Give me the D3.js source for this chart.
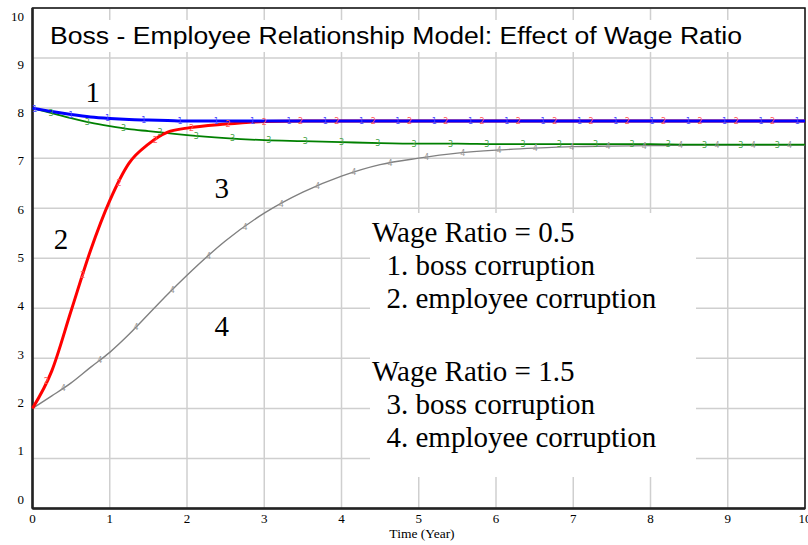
<!DOCTYPE html>
<html>
<head>
<meta charset="utf-8">
<script src="https://cdn.jsdelivr.net/npm/d3@7"></script>
<style>
  body { margin: 0; background: #fff; }
  svg { display: block; }
</style>
</head>
<body>
<svg id="chart" width="808" height="545"></svg>
<script>
// time axis (years) shared by all four runs
var times = [0, 0.25, 0.5, 0.75, 1, 1.25, 1.5, 1.75, 2, 2.5, 3, 3.5, 4, 4.5, 5, 5.5, 6, 6.5, 7, 7.5, 8, 8.5, 9, 9.5, 10];

// wage ratio = 0.5
var bossCorruption05 = [8.0, 7.93, 7.87, 7.82, 7.79, 7.77, 7.76, 7.75, 7.74, 7.74, 7.74, 7.74, 7.74, 7.74, 7.74, 7.74, 7.74, 7.74, 7.74, 7.74, 7.74, 7.74, 7.74, 7.74, 7.74];
var employeeCorruption05 = [2.0, 2.75, 3.95, 5.15, 6.15, 6.9, 7.28, 7.52, 7.6, 7.68, 7.73, 7.74, 7.74, 7.74, 7.74, 7.74, 7.74, 7.74, 7.74, 7.74, 7.74, 7.74, 7.74, 7.74, 7.74];

// wage ratio = 1.5
var bossCorruption15 = [8.0, 7.9, 7.8, 7.71, 7.64, 7.58, 7.54, 7.5, 7.46, 7.4, 7.36, 7.34, 7.32, 7.3, 7.29, 7.29, 7.28, 7.28, 7.28, 7.28, 7.28, 7.27, 7.27, 7.27, 7.27];
var employeeCorruption15 = [2.0, 2.25, 2.51, 2.82, 3.12, 3.48, 3.88, 4.28, 4.66, 5.35, 5.9, 6.32, 6.64, 6.87, 7.0, 7.1, 7.16, 7.2, 7.23, 7.24, 7.25, 7.26, 7.26, 7.26, 7.26];

var xTicks = [0, 1, 2, 3, 4, 5, 6, 7, 8, 9, 10];
var yTicks = [0, 1, 2, 3, 4, 5, 6, 7, 8, 9, 10];

var titleText = "Boss - Employee Relationship Model: Effect of Wage Ratio";
var xTitle = "Time (Year)";
var legendLines = [
  "Wage Ratio = 0.5", "  1. boss corruption", "  2. employee corruption",
  "Wage Ratio = 1.5", "  3. boss corruption", "  4. employee corruption"
];

var series = [
  {id: "4", values: employeeCorruption15, color: "#808080", width: 1.4, mark: "#9a9a9a", start: 0.40},
  {id: "3", values: bossCorruption15, color: "#008000", width: 1.8, mark: "#40a040", start: 0.24},
  {id: "2", values: employeeCorruption05, color: "#ff0000", width: 3, mark: "#ff5a5a", start: 0.18},
  {id: "1", values: bossCorruption05, color: "#0000ff", width: 3, mark: "#5050ff", start: 0.03}
];
var markStep = 0.47;

var svg = d3.select("#chart");
var pLeft = 32.5, pRight = 805, pTop = 8, pBottom = 508.5;

var x = d3.scaleLinear().domain([0, 10]).range([pLeft, pRight]);
var y = d3.scaleLinear().domain([0, 10]).range([pBottom, pTop]);
// the y tick labels in the original sit a little off the grid lines
var yLab = d3.scaleLinear().domain([0, 10]).range([503.5, 20.5]);

var serif = "'Liberation Serif', 'Times New Roman', serif";

svg.append("rect").attr("width", 808).attr("height", 545).attr("fill", "#fff");

// grid
svg.append("g").selectAll("line").data(xTicks).enter().append("line")
  .attr("x1", function(d) { return x(d); }).attr("x2", function(d) { return x(d); })
  .attr("y1", pTop).attr("y2", pBottom)
  .attr("stroke", "#cfcfcf").attr("stroke-width", 1.5);
svg.append("g").selectAll("line").data(yTicks).enter().append("line")
  .attr("x1", pLeft).attr("x2", pRight)
  .attr("y1", function(d) { return y(d); }).attr("y2", function(d) { return y(d); })
  .attr("stroke", "#cfcfcf").attr("stroke-width", 1.5);

// frame
svg.append("rect").attr("x", pLeft).attr("y", pTop)
  .attr("width", pRight - pLeft).attr("height", pBottom - pTop)
  .attr("fill", "none").attr("stroke", "#111").attr("stroke-width", 1.5);
svg.append("line").attr("x1", pLeft).attr("x2", pLeft).attr("y1", pTop).attr("y2", pBottom)
  .attr("stroke", "#222").attr("stroke-width", 2.5);
svg.append("line").attr("x1", pLeft).attr("x2", pRight).attr("y1", pBottom).attr("y2", pBottom)
  .attr("stroke", "#222").attr("stroke-width", 2.5);

// tick labels
svg.append("g").selectAll("text").data(yTicks).enter().append("text")
  .attr("x", 24).attr("y", function(d) { return yLab(d); })
  .attr("text-anchor", "end")
  .style("font-family", serif)
  .style("font-size", "13px")
  .text(function(d) { return d; });
svg.append("g").selectAll("text").data(xTicks).enter().append("text")
  .attr("x", function(d) { return x(d); }).attr("y", 523)
  .attr("text-anchor", "middle")
  .style("font-family", serif)
  .style("font-size", "13px")
  .text(function(d) { return d; });
svg.append("text").attr("x", 422).attr("y", 538).attr("text-anchor", "middle")
  .style("font-family", serif)
  .style("font-size", "13.5px")
  .text(xTitle);

// lines
var line = d3.line()
  .x(function(d) { return x(d[0]); })
  .y(function(d) { return y(d[1]); })
  .curve(d3.curveMonotoneX);

function pairs(s) {
  return times.map(function(t, i) { return [t, s.values[i]]; });
}

series.forEach(function(s) {
  svg.append("path").datum(pairs(s))
    .attr("d", line)
    .attr("fill", "none")
    .attr("stroke", s.color)
    .attr("stroke-width", s.width)
    .attr("stroke-linejoin", "round");
});

// numbered markers along each run
var bis = d3.bisector(function(d) { return d; }).right;
function valueAt(s, t) {
  var i = Math.min(Math.max(bis(times, t), 1), times.length - 1);
  var t0 = times[i - 1], t1 = times[i];
  var k = (t - t0) / (t1 - t0);
  return s.values[i - 1] + k * (s.values[i] - s.values[i - 1]);
}
series.forEach(function(s) {
  var marks = [];
  for (var t = s.start; t <= 10; t += markStep) marks.push(t);
  svg.append("g").selectAll("text").data(marks).enter().append("text")
    .attr("x", function(t) { return x(t); })
    .attr("y", function(t) { return y(valueAt(s, t)) + 3; })
    .attr("text-anchor", "middle")
    .style("font-family", "'DejaVu Sans', sans-serif")
    .style("font-size", "8px")
    .attr("fill", s.mark)
    .text(s.id);
});

// title
svg.append("rect").attr("x", 40).attr("y", 20).attr("width", 712).attr("height", 32).attr("fill", "#fff");
svg.append("text").attr("x", 50).attr("y", 43.5)
  .attr("textLength", 692).attr("lengthAdjust", "spacingAndGlyphs")
  .style("font-family", "'Liberation Sans', Arial, sans-serif")
  .style("font-size", "23.5px")
  .text(titleText);

// line labels
var labels = [
  {t: "1", x: 0.78, y: 8.12},
  {t: "2", x: 0.37, y: 5.18},
  {t: "3", x: 2.45, y: 6.2},
  {t: "4", x: 2.45, y: 3.44}
];
svg.append("g").selectAll("text").data(labels).enter().append("text")
  .attr("x", function(d) { return x(d.x); })
  .attr("y", function(d) { return y(d.y); })
  .attr("text-anchor", "middle")
  .style("font-family", serif)
  .style("font-size", "29px")
  .text(function(d) { return d.t; });

// legend box
svg.append("rect").attr("x", 370).attr("y", 213).attr("width", 326).attr("height", 264).attr("fill", "#fff");
svg.append("g").selectAll("text").data(legendLines).enter().append("text")
  .attr("x", 372)
  .attr("y", function(d, i) { return 242 + i * 33 + (i >= 3 ? 40 : 0); })
  .attr("xml:space", "preserve")
  .style("white-space", "pre")
  .style("font-family", serif)
  .style("font-size", "29px")
  .text(function(d) { return d; });
</script>
</body>
</html>
